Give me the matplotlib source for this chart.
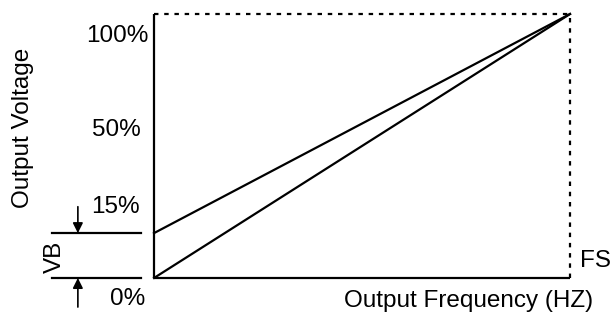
import matplotlib
matplotlib.use("Agg")
import matplotlib.pyplot as plt

# V/F curve data (x = fraction of full-scale frequency, y = output voltage in %)
freq = [0.0, 1.0]
volt_linear = [0, 100]
vb = 17                      # voltage boost at 0 Hz
volt_boost = [vb, 100]

y_tick_labels = ["100%", "50%", "15%", "0%"]
y_tick_pos = [91.5, 56, 27, -8]   # the labels sit loosely in the original
y_tick_right = [-0.014, -0.031, -0.034, -0.022]

plt.rcParams['font.family'] = ['Liberation Sans', 'DejaVu Sans']
fs = 17.5

W, H = 613, 322
fig = plt.figure(figsize=(W / 100, H / 100), dpi=100)
# plot box in pixels: left 154, right 570, top 14, bottom 278
ax = fig.add_axes([154 / W, (H - 278) / H, (570 - 154) / W, (278 - 14) / H])
ax.set_xlim(0, 1)
ax.set_ylim(0, 100)
ax.axis('off')

lw = 1.6
# solid axes
ax.plot([0, 0], [0, 100], color='black', lw=lw, clip_on=False, solid_capstyle='butt')
ax.plot([0, 1], [0, 0], color='black', lw=lw, clip_on=False, solid_capstyle='butt')
# dotted full-scale box
ax.plot([0, 1], [100, 100], color='black', lw=lw, dashes=(2, 2.6), clip_on=False)
ax.plot([1, 1], [0, 100], color='black', lw=lw, dashes=(2, 2.6), clip_on=False)

# the two V/F lines
ax.plot(freq, volt_linear, color='black', lw=lw, clip_on=False)
ax.plot(freq, volt_boost, color='black', lw=lw, clip_on=False)

# tick labels
for lab, yp, xr in zip(y_tick_labels, y_tick_pos, y_tick_right):
    ax.text(xr, yp, lab, ha='right', va='center', fontsize=fs, clip_on=False)

# VB marker lines and arrows
x_left, x_right = -0.245, -0.031
ax.plot([x_left, x_right], [vb, vb], color='black', lw=lw, clip_on=False)
ax.plot([x_left, x_right], [0, 0], color='black', lw=lw, clip_on=False)
xa = -0.183
ax.annotate('', xy=(xa, vb), xytext=(xa, vb + 10), annotation_clip=False,
            arrowprops=dict(arrowstyle='-|>', color='black', lw=1.2, mutation_scale=15,
                            shrinkA=0, shrinkB=0))
ax.annotate('', xy=(xa, 0), xytext=(xa, -11), annotation_clip=False,
            arrowprops=dict(arrowstyle='-|>', color='black', lw=1.2, mutation_scale=15,
                            shrinkA=0, shrinkB=0))
ax.text(-0.238, 8, "VB", rotation=90, ha='center', va='center', fontsize=fs, clip_on=False)

# labels
ax.text(-0.315, 57, "Output Voltage", rotation=90, ha='center', va='center', fontsize=fs, clip_on=False)
ax.text(1.055, -8.6, "Output Frequency (HZ)", ha='right', va='center', fontsize=fs, clip_on=False)
ax.text(1.024, 6.5, "FS", ha='left', va='center', fontsize=fs, clip_on=False)

fig.savefig("out.png", dpi=100)
